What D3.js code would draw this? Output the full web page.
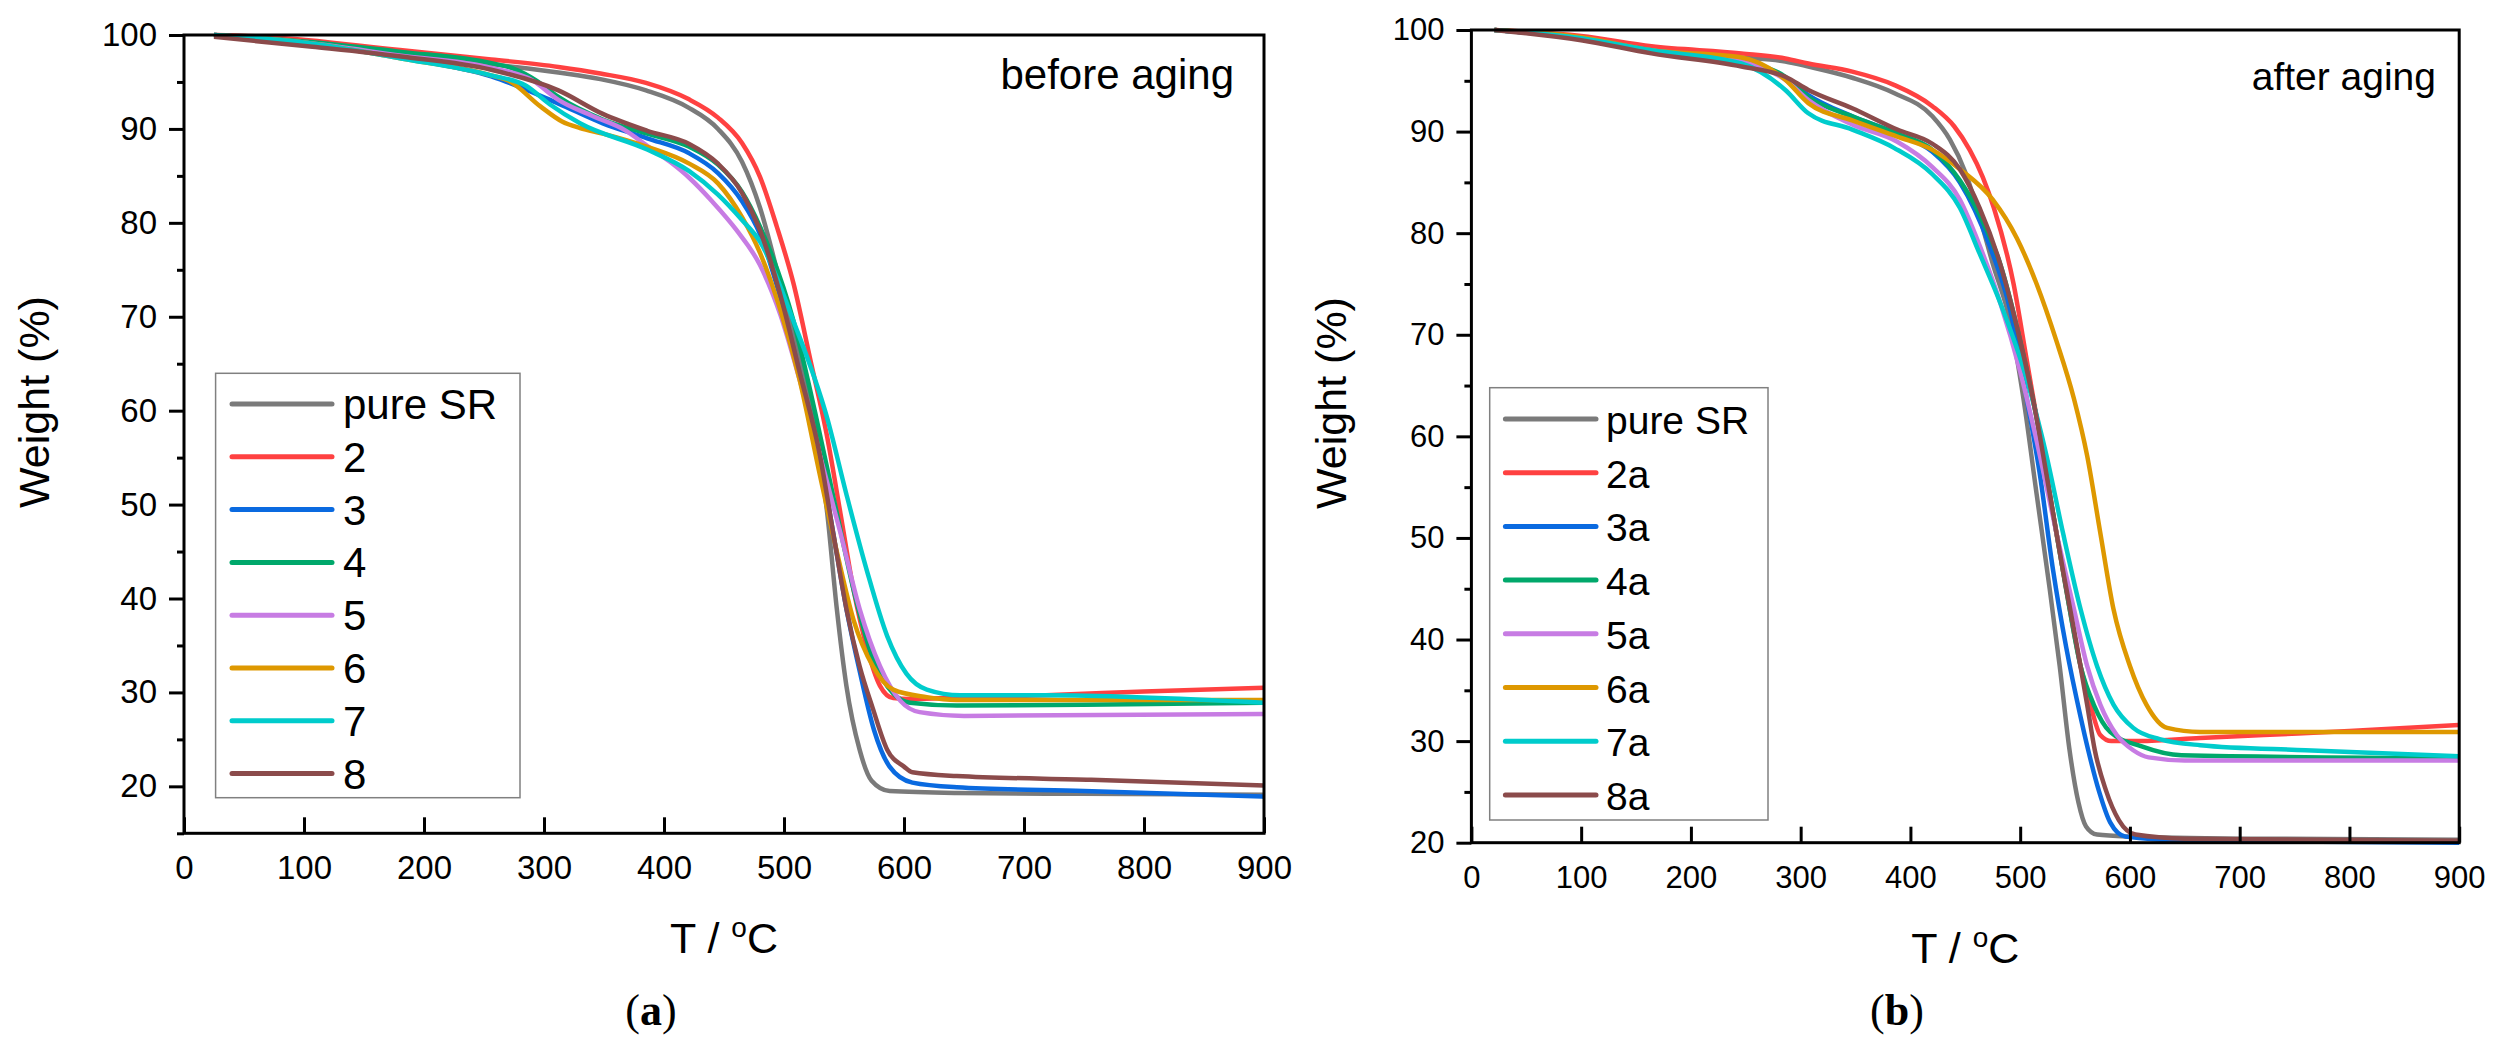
<!DOCTYPE html>
<html>
<head>
<meta charset="utf-8">
<script src="https://cdn.jsdelivr.net/npm/d3@7"></script>
<style>
  body { margin: 0; background: #fff; }
  svg { display: block; background: #fff; }
</style>
</head>
<body>
<div id="svg-container"></div>
<script>
////////////////////////////////////////////////////////////////////
////////////////////////////  Data  ////////////////////////////////
// each point: [T (°C), weight (%)]

// (a) before aging
const before_pureSR = [[25,100],[60,99.8],[100,99.2],[180,98.2],[256,96.9],[312,96.0],[347,95.3],[385,94.1],[420,92.3],[445,90],[465,86.5],[480,81.6],[497,73.5],[513,65.4],[527,57.2],[536,49.1],[544,38.9],[552,30.7],[563,23.9],[573,20.6],[588,19.5],[644,19.3],[750,19.2],[900,19.1]];
const before_2 = [[25,100],[70,99.8],[180,98.4],[256,97.4],[312,96.6],[347,95.9],[385,94.9],[420,93.2],[445,91.2],[465,88.5],[480,84.9],[494,79.6],[508,73.5],[522,65.4],[536,57.2],[547,49.1],[558,40.9],[569,34.8],[580,30.7],[591,29.4],[605,29.3],[650,29.5],[718,29.7],[800,30.1],[900,30.5]];
const before_3 = [[25,100],[100,99.2],[181,97.6],[256,95.6],[312,92.7],[349,90.6],[386,89.0],[421,87.4],[445,85.3],[465,82.3],[480,78.8],[497,72],[513,64],[530,55],[541,47],[552,38.9],[563,32.3],[575,26],[588,22.1],[607,20.4],[644,19.9],[750,19.5],[900,18.9]];
const before_4 = [[25,100],[100,99.3],[181,98.2],[256,97.0],[275,96.4],[293,95.2],[312,93.4],[349,91.0],[386,89.5],[421,88.1],[445,86.2],[465,83.3],[480,79.6],[508,69.5],[527,59.2],[544,49.1],[558,40.9],[574,33.6],[591,29.9],[605,28.9],[644,28.6],[750,28.7],[900,28.9]];
const before_5 = [[25,100],[100,99.2],[181,97.8],[256,96.5],[290,95.2],[312,93.1],[340,91.4],[367,89.9],[386,88.2],[405,86.5],[421,84.8],[440,82.3],[460,79.3],[480,75.5],[497,70.2],[513,63.3],[530,55.2],[547,47.0],[563,38.9],[580,32.8],[597,29.1],[613,27.9],[650,27.5],[900,27.7]];
const before_6 = [[25,100],[100,99.2],[181,97.5],[256,95.7],[271,95.1],[297,92.4],[315,90.8],[330,90.1],[349,89.5],[386,88.1],[421,86.3],[445,84.2],[465,80.6],[480,76.8],[497,70.7],[513,63.3],[530,53.1],[544,45.0],[558,37.7],[574,32.8],[591,30.3],[619,29.5],[644,29.2],[900,29.2]];
const before_7 = [[25,100],[100,99.2],[181,97.5],[256,95.7],[285,94.6],[305,92.6],[330,90.6],[386,87.8],[421,85.5],[445,83],[465,80.3],[480,78.0],[508,69.5],[536,59.2],[552,51.1],[569,43.0],[586,36.0],[602,32.0],[619,30.3],[647,29.7],[718,29.7],[900,28.9]];
const before_8 = [[25,99.8],[107,98.75],[181,97.7],[256,96.3],[312,94.1],[349,91.6],[386,89.8],[421,88.4],[445,86.3],[465,83.2],[480,79.2],[497,72.3],[513,64.1],[530,55.2],[541,47.0],[552,38.9],[563,32.8],[574,28.3],[586,23.9],[600,22.1],[607,21.5],[644,21.1],[756,20.7],[900,20.1]];

// (b) after aging
const after_pureSR = [[21,100],[100,99.2],[164,98.2],[246,97.3],[286,96.9],[307,96.4],[347,95.3],[385,93.8],[420,91.5],[436,89.2],[450,86],[462,82],[475,77],[491,71.2],[503,63.7],[515,54.3],[527,44.9],[536,37.4],[545,29.1],[553,24],[560,21.6],[570,20.8],[600,20.6],[700,20.4],[900,20.3]];
const after_2a = [[21,100],[100,99.4],[164,98.4],[246,97.7],[286,97.2],[307,96.7],[347,95.9],[385,94.6],[420,92.5],[440,90.5],[454,88.2],[466,85.5],[476,82.5],[494,75.0],[506,67.5],[518,60],[530,52.4],[542,44.9],[555,37.4],[564,33.6],[573,30.6],[583,30.0],[609,30.0],[664,30.3],[722,30.6],[800,31.0],[900,31.6]];
const after_3a = [[21,100],[100,99.2],[164,98.0],[246,96.7],[286,95.3],[307,93.6],[347,91.5],[388,89.8],[420,88.0],[445,85],[472,78.8],[491,72.4],[506,63.7],[518,56.2],[530,46.8],[542,39.2],[555,32.4],[562,29.1],[572,25],[582,22],[596,20.6],[650,20.2],[900,20.0]];
const after_4a = [[21,100],[100,99.2],[164,98.0],[246,96.9],[286,95.4],[307,93.4],[347,91.5],[388,89.8],[420,88.2],[445,85.2],[463,81.8],[482,76.9],[500,69.4],[515,61.8],[530,52.4],[542,44.9],[555,37.4],[567,33.6],[582,30.9],[610,29.5],[647,28.6],[900,28.3]];
const after_5a = [[21,100],[100,99.2],[164,98.0],[246,96.9],[286,95.1],[307,93.1],[347,90.7],[388,89.0],[420,86.5],[445,83.3],[463,78.8],[482,73.1],[500,66.4],[518,58.1],[533,50.5],[549,43.0],[561,37.4],[573,33.6],[588,30.6],[603,29.1],[617,28.4],[650,28.1],[900,28.1]];
const after_6a = [[21,100],[100,99.3],[164,98.0],[246,97.3],[286,95.1],[307,92.8],[347,91.1],[388,89.5],[420,88.2],[445,86.3],[475,83.3],[497,79.5],[515,75],[533,69.4],[549,63.7],[561,58.1],[573,50.5],[585,43.0],[600,37.4],[615,33.6],[634,31.3],[664,30.9],[900,30.9]];
const after_7a = [[21,100],[100,99.2],[164,98.0],[246,96.7],[286,94.1],[307,91.8],[347,90.2],[385,88.4],[420,85.8],[445,82.5],[463,78.0],[482,73.1],[506,65.6],[524,58.1],[539,50.5],[555,43],[570,37.4],[585,33.6],[603,31.3],[627,30.2],[664,29.6],[760,29.1],[900,28.5]];
const after_8a = [[21,100],[100,99.0],[164,97.7],[246,96.4],[286,95.4],[307,94.1],[347,92.3],[388,90.2],[420,88.8],[445,86.3],[463,82.5],[482,76.9],[500,69.4],[515,61.8],[527,54.3],[539,46.8],[552,39.2],[561,33.6],[568,29.1],[578,25.2],[590,22.2],[605,20.8],[650,20.4],[900,20.2]];

const namesBefore = ["pure SR", "2", "3", "4", "5", "6", "7", "8"];
const namesAfter = ["pure SR", "2a", "3a", "4a", "5a", "6a", "7a", "8a"];
const colors = ["#7a7a7a", "#ff4141", "#0a6ae0", "#00a86b", "#c77ce3", "#de9800", "#00cccc", "#8b4b4b"];

const xTicks = [0, 100, 200, 300, 400, 500, 600, 700, 800, 900];
const yTicksBefore = [20, 30, 40, 50, 60, 70, 80, 90, 100];
const yMinorBefore = [15, 25, 35, 45, 55, 65, 75, 85, 95];
const yTicksAfter = [20, 30, 40, 50, 60, 70, 80, 90, 100];
const yMinorAfter = [25, 35, 45, 55, 65, 75, 85, 95];

////////////////////////////////////////////////////////////////////
////////////////////////////  Init  ////////////////////////////////

const width = 2499;
const height = 1047;
const sans = "'Liberation Sans', Arial, sans-serif";
const serif = "'Liberation Serif', 'Times New Roman', serif";

const svg = d3.select("#svg-container").append("svg")
  .attr("width", width).attr("height", height);

function drawPanel(p) {
  const xScale = d3.scaleLinear().domain([0, 900]).range([p.left, p.right]);
  const yScale = d3.scaleLinear().domain(p.yDomain).range([p.bottom, p.top]);
  const g = svg.append("g");

  // curves
  const line = d3.line()
    .curve(d3.curveMonotoneX)
    .x((d) => xScale(d[0]))
    .y((d) => yScale(d[1]));

  g.append("g")
    .selectAll("path")
    .data(p.series)
    .join("path")
    .attr("d", line)
    .attr("fill", "none")
    .attr("stroke", (d, i) => colors[i])
    .attr("stroke-width", 4.5)
    .attr("stroke-linejoin", "round");

  // y axis, major + minor
  const yAxis = d3.axisLeft(yScale).tickValues(p.yTicks).tickSize(15).tickSizeOuter(0).tickPadding(12);
  const yMinor = d3.axisLeft(yScale).tickValues(p.yMinor).tickSize(7).tickSizeOuter(0).tickFormat("");

  [yAxis, yMinor].forEach((ax) => {
    g.append("g")
      .attr("transform", `translate(${p.left},0)`)
      .call(ax)
      .attr("font-family", sans)
      .attr("font-size", p.tickFont)
      .call((a) => a.select(".domain").remove())
      .call((a) => a.selectAll("line").attr("stroke", "#000").attr("stroke-width", 3))
      .call((a) => a.selectAll("text").attr("fill", "#000"));
  });

  // x axis, ticks pointing inward
  const xAxis = d3.axisBottom(xScale).tickValues(xTicks).tickSize(-16).tickSizeOuter(0).tickPadding(p.xPad);
  g.append("g")
    .attr("transform", `translate(0,${p.bottom})`)
    .call(xAxis)
    .attr("font-family", sans)
    .attr("font-size", p.tickFont)
    .call((a) => a.select(".domain").remove())
    .call((a) => a.selectAll("line").attr("stroke", "#000").attr("stroke-width", 3))
    .call((a) => a.selectAll("text").attr("fill", "#000"));

  // frame
  g.append("rect")
    .attr("x", p.left).attr("y", p.top)
    .attr("width", p.right - p.left).attr("height", p.bottom - p.top)
    .attr("fill", "none").attr("stroke", "#000").attr("stroke-width", 3);

  // axis titles
  g.append("text")
    .attr("transform", `translate(${p.yTitleX},${p.yTitleY}) rotate(-90)`)
    .attr("text-anchor", "middle")
    .attr("font-family", sans).attr("font-size", 43)
    .text("Weight (%)");

  const xt = g.append("text")
    .attr("x", (p.left + p.right) / 2).attr("y", p.xTitleY)
    .attr("text-anchor", "middle")
    .attr("font-family", sans).attr("font-size", 43);
  xt.append("tspan").text("T / ");
  xt.append("tspan").attr("font-size", 28).attr("dy", -16).text("o");
  xt.append("tspan").attr("dy", 16).text("C");

  // annotation
  g.append("text")
    .attr("x", p.noteX).attr("y", p.noteY)
    .attr("text-anchor", "end")
    .attr("font-family", sans).attr("font-size", p.legendFont)
    .text(p.note);

  // legend
  const lg = p.legend;
  g.append("rect")
    .attr("x", lg.x0).attr("y", lg.y0)
    .attr("width", lg.x1 - lg.x0).attr("height", lg.y1 - lg.y0)
    .attr("fill", "none").attr("stroke", "#808080").attr("stroke-width", 1.5);

  const items = g.append("g")
    .selectAll("g")
    .data(p.names)
    .join("g")
    .attr("transform", (d, i) => `translate(0,${lg.first + i * lg.step})`);

  items.append("line")
    .attr("x1", lg.lineX0).attr("x2", lg.lineX1)
    .attr("stroke", (d, i) => colors[i])
    .attr("stroke-width", 5)
    .attr("stroke-linecap", "round");

  items.append("text")
    .attr("x", lg.textX).attr("y", 15)
    .attr("font-family", sans).attr("font-size", p.legendFont)
    .text((d) => d);

  // panel label
  const pl = g.append("text")
    .attr("x", p.labelX).attr("y", 1025)
    .attr("text-anchor", "middle")
    .attr("font-family", serif).attr("font-size", 44);
  pl.append("tspan").text("(");
  pl.append("tspan").attr("font-weight", "bold").text(p.label);
  pl.append("tspan").text(")");
}

drawPanel({
  left: 184, right: 1264, top: 35, bottom: 833.3,
  yDomain: [15, 100], yTicks: yTicksBefore, yMinor: yMinorBefore,
  series: [before_pureSR, before_2, before_3, before_4, before_5, before_6, before_7, before_8],
  names: namesBefore,
  tickFont: 33, legendFont: 42, xPad: 22,
  yTitleX: 49, yTitleY: 402, xTitleY: 953,
  note: "before aging", noteX: 1234, noteY: 89,
  legend: { x0: 215.6, x1: 520, y0: 373.3, y1: 797.7, first: 404, step: 52.8, lineX0: 232, lineX1: 332, textX: 343 },
  label: "a", labelX: 651
});

drawPanel({
  left: 1471.4, right: 2459.2, top: 30, bottom: 842.7,
  yDomain: [20, 100], yTicks: yTicksAfter, yMinor: yMinorAfter,
  series: [after_pureSR, after_2a, after_3a, after_4a, after_5a, after_6a, after_7a, after_8a],
  names: namesAfter,
  tickFont: 31, legendFont: 39, xPad: 23,
  yTitleX: 1346, yTitleY: 403, xTitleY: 963,
  note: "after aging", noteX: 2436, noteY: 90,
  legend: { x0: 1489.7, x1: 1768, y0: 387.7, y1: 820, first: 419, step: 53.7, lineX0: 1505.4, lineX1: 1596, textX: 1606 },
  label: "b", labelX: 1897
});
</script>
</body>
</html>
